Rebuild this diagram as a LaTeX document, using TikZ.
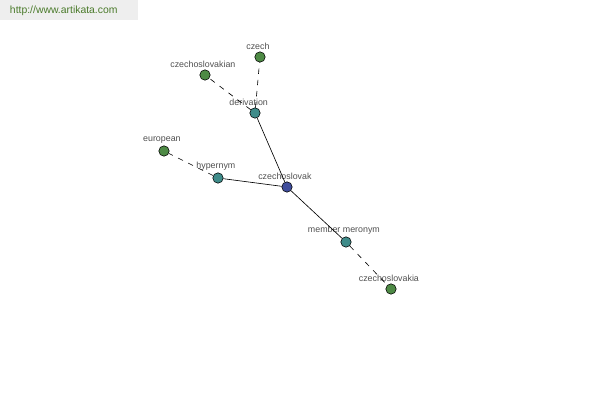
\documentclass[tikz,border=0pt]{standalone}
\usepackage{fontspec}
\setmainfont{Liberation Sans}
\usepackage{tikz}
\usetikzlibrary{positioning}
\definecolor{wordGreen}{HTML}{4E8A45}
\definecolor{relTeal}{HTML}{3F8C8A}
\definecolor{rootBlue}{HTML}{404E9C}
\definecolor{lblGray}{HTML}{505050}
\definecolor{headGray}{HTML}{EEEEEE}
\definecolor{headGreen}{HTML}{4A7A2A}

\begin{document}
\begin{tikzpicture}[x=0.025cm,y=-0.025cm,
    dot/.style={circle,draw=black,line width=0.4pt,minimum size=0.26cm,inner sep=0pt},
    word/.style={dot,fill=wordGreen},
    rel/.style={dot,fill=relTeal},
    root/.style={dot,fill=rootBlue},
    lbl/.style={text=lblGray,font=\fontsize{6.3}{7}\selectfont,inner sep=1pt,xshift=-1.5pt},
    link/.style={line width=0.45pt},
    weak/.style={line width=0.45pt,dash pattern=on 3.8pt off 4.2pt}]
    \useasboundingbox (0,0) rectangle (600,400);
    \fill[headGray] (0,0) rectangle (138,20);
    \node[headGreen,font=\fontsize{7.4}{8}\selectfont,anchor=west] (site) at (5,11) {http://www.artikata.com};
    % nodes
    \node[root,label={[lbl]above:czechoslovak}] (cs) at (287,187) {};
    \node[rel,label={[lbl,xshift=-3pt]above:derivation}] (der) at (255,113) {};
    \node[rel,label={[lbl]above:hypernym}] (hyp) at (218,178) {};
    \node[rel,label={[lbl]above:member meronym}] (mem) at (346,242) {};
    \node[word,label={[lbl]above:czech}] (czech) at (260,57) {};
    \node[word,label={[lbl]above:czechoslovakian}] (csian) at (205,75) {};
    \node[word,label={[lbl]above:european}] (euro) at (164,151) {};
    \node[word,label={[lbl]above:czechoslovakia}] (csia) at (391,289) {};
    % links
    \draw[link] (cs) -- (der);
    \draw[link] (cs) -- (hyp);
    \draw[link] (cs) -- (mem);
    \draw[weak] (der) -- (czech);
    \draw[weak] (der) -- (csian);
    \draw[weak] (hyp) -- (euro);
    \draw[weak] (mem) -- (csia);
  \end{tikzpicture}
\end{document}
